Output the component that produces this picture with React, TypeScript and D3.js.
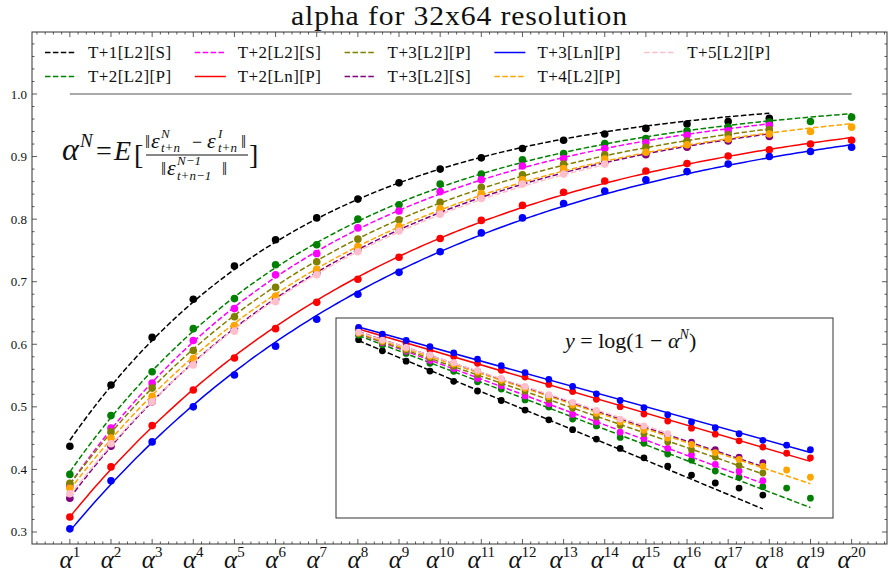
import React, { useEffect, useRef } from 'react';
import * as d3 from 'd3';

// horizon N of alpha^N
const steps = [1, 2, 3, 4, 5, 6, 7, 8, 9, 10, 11, 12, 13, 14, 15, 16, 17, 18, 19, 20];
const yTicks = [0.3, 0.4, 0.5, 0.6, 0.7, 0.8, 0.9, 1.0];

const seriesNames = ['T+1[L2][S]', 'T+2[L2][P]', 'T+2[L2][S]', 'T+2[Ln][P]', 'T+3[L2][P]', 'T+3[L2][S]', 'T+3[Ln][P]', 'T+4[L2][P]', 'T+5[L2][P]'];
const seriesColors = ['black', 'green', 'magenta', 'red', 'olive', 'purple', 'blue', 'orange', 'pink'];
const seriesDashed = [true, true, true, false, true, true, false, true, true];

const t1L2S = [0.437, 0.535, 0.611, 0.672, 0.725, 0.767, 0.802, 0.832, 0.858, 0.880, 0.898, 0.913, 0.926, 0.936, 0.945, 0.952, 0.956, 0.961];
const t2L2P = [0.392, 0.486, 0.556, 0.625, 0.673, 0.727, 0.759, 0.800, 0.823, 0.856, 0.872, 0.895, 0.905, 0.921, 0.929, 0.941, 0.947, 0.955, 0.956, 0.963];
const t2L2S = [0.374, 0.466, 0.538, 0.606, 0.657, 0.711, 0.745, 0.786, 0.813, 0.844, 0.863, 0.885, 0.897, 0.913, 0.922, 0.934, 0.941, 0.950];
const t2LnP = [0.324, 0.404, 0.470, 0.527, 0.578, 0.625, 0.667, 0.704, 0.739, 0.769, 0.798, 0.822, 0.843, 0.861, 0.877, 0.889, 0.901, 0.911, 0.920, 0.926];
const t3L2P = [0.378, 0.460, 0.530, 0.590, 0.644, 0.691, 0.732, 0.768, 0.799, 0.827, 0.851, 0.871, 0.888, 0.903, 0.915, 0.925, 0.935, 0.943];
const t3L2S = [0.354, 0.437, 0.508, 0.571, 0.625, 0.672, 0.714, 0.751, 0.784, 0.812, 0.837, 0.858, 0.876, 0.891, 0.903, 0.915, 0.925, 0.932];
const t3LnP = [0.305, 0.382, 0.444, 0.500, 0.551, 0.597, 0.640, 0.680, 0.715, 0.748, 0.778, 0.802, 0.825, 0.845, 0.863, 0.876, 0.888, 0.900, 0.908, 0.915];
const t4L2P = [0.370, 0.450, 0.517, 0.577, 0.630, 0.677, 0.720, 0.756, 0.788, 0.817, 0.841, 0.863, 0.881, 0.896, 0.907, 0.919, 0.928, 0.936, 0.940, 0.947];
const t5L2P = [0.361, 0.441, 0.508, 0.567, 0.621, 0.668, 0.711, 0.748, 0.781, 0.808, 0.833, 0.856, 0.872, 0.888];

const seriesValues = [t1L2S, t2L2P, t2L2S, t2LnP, t3L2P, t3L2S, t3LnP, t4L2P, t5L2P];

const W = 889;
const H = 575;
const FONT = '"Liberation Serif", "Times New Roman", serif';

// fit alpha = 1 - exp(a + b * N): start from the log-linear fit, then refine by least squares on alpha
function fitCurve(vals: number[]) {
  const xs = vals.map((_, i) => steps[i]);
  const ys = vals.map(v => Math.log(1 - v));
  const mx = d3.mean(xs) as number;
  const my = d3.mean(ys) as number;
  let sxy = 0, sxx = 0;
  xs.forEach((xv, i) => {
    sxy += (xv - mx) * (ys[i] - my);
    sxx += (xv - mx) * (xv - mx);
  });
  let b = sxy / sxx;
  let a = my - b * mx;
  for (let it = 0; it < 30; it++) {
    let j11 = 0, j12 = 0, j22 = 0, g1 = 0, g2 = 0;
    xs.forEach((n, i) => {
      const e = Math.exp(a + b * n);
      const r = vals[i] - (1 - e);
      const da = -e, db = -n * e;
      j11 += da * da; j12 += da * db; j22 += db * db;
      g1 += da * r; g2 += db * r;
    });
    const det = j11 * j22 - j12 * j12;
    a += (j22 * g1 - j12 * g2) / det;
    b += (j11 * g2 - j12 * g1) / det;
  }
  return { a, b, last: xs[xs.length - 1] };
}

const App = () => {
  const ref = useRef<HTMLDivElement>(null);

  useEffect(() => {
    const root = d3.select(ref.current);
    root.selectAll('*').remove();

    const svg = root.append('svg')
      .attr('width', W)
      .attr('height', H)
      .style('position', 'absolute')
      .style('left', '0px')
      .style('top', '0px')
      .style('background', 'white')
      .style('font-family', FONT);

    const L = 32, R = 887, T = 32, B = 544;
    const x = d3.scaleLinear().domain([0.08, 20.86]).range([L, R]);
    const y = d3.scaleLinear().domain([0.2808, 1.0991]).range([B, T]);

    const fits = seriesValues.map(fitCurve);

    const text = (px: number, py: number, s: string, size: number, italic = false, anchor = 'start') =>
      svg.append('text')
        .attr('x', px).attr('y', py)
        .attr('font-size', size)
        .attr('font-style', italic ? 'italic' : 'normal')
        .attr('text-anchor', anchor)
        .attr('fill', '#111')
        .text(s);

    // title (Computer Modern is wider than Times, so stretch it a little)
    text(0, 0, 'alpha for 32x64 resolution', 27, false, 'middle')
      .attr('letter-spacing', 0.8)
      .attr('transform', `translate(${(L + R) / 2},25) scale(1.1,1)`);

    // reference line at 1.0
    svg.append('line')
      .attr('x1', x(1)).attr('x2', x(20))
      .attr('y1', y(1)).attr('y2', y(1))
      .attr('stroke', '#8c8c8c').attr('stroke-width', 1.5);

    // fitted curves and points
    const line = d3.line<[number, number]>().x(d => x(d[0])).y(d => y(d[1]));
    seriesValues.forEach((vals, s) => {
      const f = fits[s];
      const pts: [number, number][] = d3.range(1, f.last + 0.001, 0.1).map(n => [n, 1 - Math.exp(f.a + f.b * n)]);
      svg.append('path')
        .attr('d', line(pts))
        .attr('fill', 'none')
        .attr('stroke', seriesColors[s])
        .attr('stroke-width', 1.5)
        .attr('stroke-dasharray', seriesDashed[s] ? '5.5,2.4' : null);
      svg.append('g').selectAll('circle')
        .data(vals)
        .enter()
        .append('circle')
        .attr('cx', (_, i) => x(steps[i]))
        .attr('cy', d => y(d))
        .attr('r', 3.8)
        .attr('fill', seriesColors[s]);
    });

    // frame and ticks (inward, all sides)
    svg.append('rect')
      .attr('x', L).attr('y', T).attr('width', R - L).attr('height', B - T)
      .attr('fill', 'none').attr('stroke', '#333').attr('stroke-width', 1);

    const ticks = svg.append('g').attr('stroke', '#333').attr('stroke-width', 0.8);
    const xMinor = d3.range(1, 105).filter(i => i % 5 !== 0).map(i => i * 0.2).filter(v => v < 20.86);
    steps.forEach(n => {
      ticks.append('line').attr('x1', x(n)).attr('x2', x(n)).attr('y1', B).attr('y2', B - 5);
      ticks.append('line').attr('x1', x(n)).attr('x2', x(n)).attr('y1', T).attr('y2', T + 5);
    });
    xMinor.forEach(v => {
      ticks.append('line').attr('x1', x(v)).attr('x2', x(v)).attr('y1', B).attr('y2', B - 2.5);
      ticks.append('line').attr('x1', x(v)).attr('x2', x(v)).attr('y1', T).attr('y2', T + 2.5);
    });
    const yMinor = d3.range(14, 55).filter(i => i % 5 !== 0).map(i => i * 0.02).filter(v => v > 0.2808 && v < 1.0991);
    yTicks.forEach(v => {
      ticks.append('line').attr('x1', L).attr('x2', L + 5).attr('y1', y(v)).attr('y2', y(v));
      ticks.append('line').attr('x1', R).attr('x2', R - 5).attr('y1', y(v)).attr('y2', y(v));
    });
    yMinor.forEach(v => {
      ticks.append('line').attr('x1', L).attr('x2', L + 2.5).attr('y1', y(v)).attr('y2', y(v));
      ticks.append('line').attr('x1', R).attr('x2', R - 2.5).attr('y1', y(v)).attr('y2', y(v));
    });

    // tick labels
    yTicks.forEach(v => text(27, y(v) + 4.5, v.toFixed(1), 13, false, 'end'));
    steps.forEach(n => {
      const t = svg.append('text')
        .attr('x', x(n)).attr('y', 568)
        .attr('text-anchor', 'middle')
        .attr('fill', '#111');
      t.append('tspan').attr('font-size', 25).attr('font-style', 'italic').text('α');
      t.append('tspan').attr('font-size', 15).attr('dy', -11).text(String(n));
    });

    // legend, two rows filled column by column
    seriesNames.forEach((name, i) => {
      const col = Math.floor(i / 2);
      const row = i % 2;
      const lx = 45 + col * 149.8;
      const ly = 52.5 + row * 24;
      svg.append('line')
        .attr('x1', lx).attr('x2', lx + 31)
        .attr('y1', ly).attr('y2', ly)
        .attr('stroke', seriesColors[i]).attr('stroke-width', 1.5)
        .attr('stroke-dasharray', seriesDashed[i] ? '5.5,2.4' : null);
      text(lx + 43, ly + 5.5, name, 17).attr('letter-spacing', 0.4);
    });

    // formula for alpha^N
    text(62, 160, 'α', 32, true);
    text(80, 147, 'N', 19, true);
    text(96, 160, '=', 28);
    text(114, 160, 'E', 28, true);
    text(134, 164, '[', 28);
    text(249, 164, ']', 28);
    svg.append('line').attr('x1', 146).attr('x2', 248).attr('y1', 155).attr('y2', 155)
      .attr('stroke', '#111').attr('stroke-width', 1);
    text(145, 148, '‖', 18);
    text(151, 148, 'ε', 22, true);
    text(161, 138, 'N', 13, true);
    text(161, 152, 't+n', 13, true);
    text(192, 148, '−', 18);
    text(207, 148, 'ε', 22, true);
    text(218, 138, 'I', 13, true);
    text(218, 152, 't+n', 13, true);
    text(241, 148, '‖', 18);
    text(161, 175, '‖', 18);
    text(167, 175, 'ε', 22, true);
    text(177, 165, 'N−1', 13, true);
    text(177, 180, 't+n−1', 13, true);
    text(222, 175, '‖', 18);

    // inset: log(1 - alpha^N)
    const iL = 336, iR = 833, iT = 318, iB = 518;
    const ix = d3.scaleLinear().domain([0.05, 20.95]).range([iL, iR]);
    const allLog: number[] = [];
    seriesValues.forEach((vals, s) => {
      vals.forEach(v => allLog.push(Math.log(1 - v)));
      allLog.push(fits[s].a + fits[s].b, fits[s].a + fits[s].b * fits[s].last);
    });
    const [lo, hi] = d3.extent(allLog) as [number, number];
    const pad = (hi - lo) * 0.05;
    const iy = d3.scaleLinear().domain([lo - pad, hi + pad]).range([iB, iT]);

    svg.append('rect')
      .attr('x', iL).attr('y', iT).attr('width', iR - iL).attr('height', iB - iT)
      .attr('fill', 'white').attr('stroke', '#333').attr('stroke-width', 1);

    seriesValues.forEach((vals, s) => {
      const f = fits[s];
      svg.append('line')
        .attr('x1', ix(1)).attr('y1', iy(f.a + f.b))
        .attr('x2', ix(f.last)).attr('y2', iy(f.a + f.b * f.last))
        .attr('stroke', seriesColors[s]).attr('stroke-width', 1.5)
        .attr('stroke-dasharray', seriesDashed[s] ? '5.5,2.4' : null);
      svg.append('g').selectAll('circle')
        .data(vals)
        .enter()
        .append('circle')
        .attr('cx', (_, i) => ix(steps[i]))
        .attr('cy', d => iy(Math.log(1 - d)))
        .attr('r', 3.4)
        .attr('fill', seriesColors[s]);
    });

    const lab = svg.append('text').attr('x', 565).attr('y', 348).attr('font-size', 22).attr('fill', '#111');
    lab.append('tspan').attr('font-style', 'italic').text('y');
    lab.append('tspan').text(' = log(1 − ');
    lab.append('tspan').attr('font-style', 'italic').text('α');
    lab.append('tspan').attr('font-style', 'italic').attr('font-size', 14).attr('dy', -9).text('N');
    lab.append('tspan').attr('dy', 9).text(')');
  }, []);

  return <div ref={ref}></div>;
};

export default App;
